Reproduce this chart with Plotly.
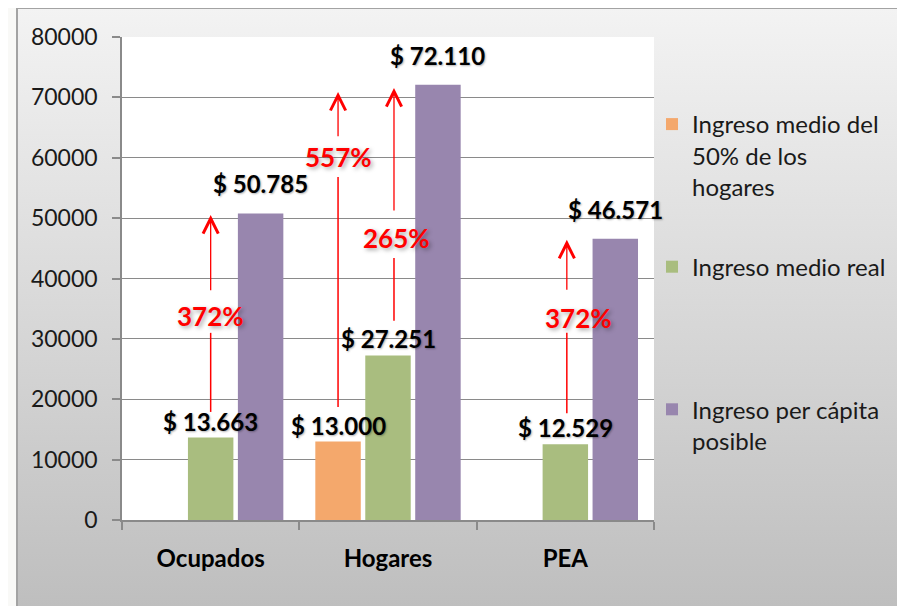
import base64
import plotly.graph_objects as go

# ---------------- data ----------------
categories = ["Ocupados", "Hogares", "PEA"]
series_names = [
    "Ingreso medio del<br>50% de los<br>hogares",
    "Ingreso medio real<br> <br> ",
    "Ingreso per cápita<br>posible",
]
ingreso_50_hogares = [None, 13000, None]
ingreso_medio_real = [13663, 27251, 12529]
ingreso_per_capita = [50785, 72110, 46571]

# growth arrows: category index, slot offset (in bar slots), label, start value, label value, tip value
arrow_category = [0, 1, 1, 2]
arrow_slot = [0.0, -1.0, 0.12, 0.03]
arrow_label = ["372%", "557%", "265%", "372%"]
arrow_label_dx = [0.0, 0.0, 0.012, 0.066]
arrow_start = [17900, 18700, 33000, 17700]
arrow_gap_low = [31000, 56800, 43400, 31000]
arrow_label_y = [33800, 60100, 46700, 33500]
arrow_gap_high = [37800, 63300, 51000, 37900]
arrow_tip = [50500, 70900, 71550, 46400]

y_ticks = [0, 10000, 20000, 30000, 40000, 50000, 60000, 70000, 80000]

# ---------------- style ----------------
W, H = 905, 606
OFF = 8  # page offset of the figure inside the window
ML, MT = 122 - OFF, 37 - OFF
MR, MB = W - (654 - OFF), H - (520 - OFF)
PW, PH = W - ML - MR, H - MT - MB
BARGAP, GROUPGAP = 0.155, 0.09
SLOT = (1 - BARGAP) / 3
colors = ["#f4a86c", "#a9bd7f", "#9886ae"]
FONT = "Lato"

def fmt(v):
    return "$ " + f"{v:,}".replace(",", ".")

fig = go.Figure()
all_series = [ingreso_50_hogares, ingreso_medio_real, ingreso_per_capita]
for i, (name, vals) in enumerate(zip(series_names, all_series)):
    fig.add_trace(go.Bar(
        x=categories, y=vals, name=name, legendgroup=f"g{i}",
        marker=dict(color=colors[i], line=dict(width=0)),
        hoverinfo="skip",
    ))

# value labels
label_yshift = [0, 0, 13]
annotations = []
for s, vals in enumerate(all_series):
    for c, v in enumerate(vals):
        if v is None:
            continue
        annotations.append(dict(
            x=c + (s - 1) * SLOT, y=v, xref="x", yref="y", text="<b>" + fmt(v) + "</b>",
            showarrow=False, yanchor="bottom", yshift=label_yshift[s],
            font=dict(family=FONT, size=24, color="#000000",
                      shadow="1px 1px 2px rgba(0,0,0,0.3)"),
        ))

# growth arrows
shapes = []
for k in range(len(arrow_label)):
    xa = arrow_category[k] + arrow_slot[k] * SLOT
    shapes.append(dict(type="line", xref="x", yref="y", x0=xa, x1=xa,
                       y0=arrow_start[k], y1=arrow_gap_low[k],
                       line=dict(color="#ff0000", width=1.5), layer="above"))
    annotations.append(dict(
        x=xa, y=arrow_tip[k], ax=xa, ay=arrow_gap_high[k], xref="x", yref="y",
        axref="x", ayref="y", text="", showarrow=True, arrowhead=5,
        arrowsize=2.3, arrowwidth=1.3, arrowcolor="#ff0000",
    ))
    annotations.append(dict(
        x=xa + arrow_label_dx[k], y=arrow_label_y[k], xref="x", yref="y",
        text="<b>" + arrow_label[k] + "</b>", showarrow=False,
        font=dict(family=FONT, size=26, color="#ff0000",
                  shadow="2px 2px 4px rgba(0,0,0,0.35)"),
    ))

# background panel with vertical gradient (window pixel coords minus page offset)
box_left, box_top, box_right, box_bottom = 16 - OFF, 7 - OFF, 903 - OFF, 612
bw, bh = box_right - box_left, box_bottom - box_top
svg = (
    f"<svg xmlns='http://www.w3.org/2000/svg' width='{bw}' height='{bh}' viewBox='0 0 {bw} {bh}'>"
    "<defs><linearGradient id='g' x1='0' y1='0' x2='0' y2='1'>"
    "<stop offset='0' stop-color='#f3f3f3'/><stop offset='1' stop-color='#bdbdbd'/>"
    "</linearGradient></defs>"
    f"<rect x='1' y='1' width='{bw-2}' height='{bh-2}' fill='url(#g)' stroke='#a3a3a3' stroke-width='2'/>"
    "</svg>"
)
src = "data:image/svg+xml;base64," + base64.b64encode(svg.encode()).decode()
images = [dict(
    source=src, xref="paper", yref="paper",
    x=(box_left - ML) / PW, y=(H - MB - box_top) / PH,
    sizex=bw / PW, sizey=bh / PH, xanchor="left", yanchor="top",
    sizing="stretch", layer="below",
)]
shapes.append(dict(type="rect", xref="paper", yref="paper", x0=0, x1=1, y0=0, y1=1,
                   fillcolor="#ffffff", line=dict(width=0), layer="below"))

legend_left, legend_top = 652 - OFF, 102 - OFF

fig.update_layout(
    width=W, height=H,
    margin=dict(l=ML, r=MR, t=MT, b=MB, pad=0),
    paper_bgcolor="#f9f9f7", plot_bgcolor="rgba(0,0,0,0)",
    barmode="group", bargap=BARGAP, bargroupgap=GROUPGAP,
    font=dict(family=FONT, size=22, color="#1a1a1a"),
    showlegend=True,
    legend=dict(x=(legend_left - ML) / PW, y=(H - MB - legend_top) / PH,
                xanchor="left", yanchor="top",
                valign="top", tracegroupgap=46, bgcolor="rgba(0,0,0,0)",
                font=dict(family=FONT, size=24, color="#1a1a1a")),
    annotations=annotations, shapes=shapes, images=images,
    xaxis=dict(
        type="category", showline=True, linecolor="#8a8a8a", linewidth=1.5,
        ticks="outside", ticklen=8, tickcolor="#8a8a8a", tickwidth=1.5,
        tickson="boundaries", showgrid=False, ticklabelstandoff=16,
        tickfont=dict(family=FONT, size=24, color="#000000", weight="bold"),
        range=[-0.5, 2.5],
    ),
    yaxis=dict(
        range=[0, 80000], tickvals=y_ticks, tickformat="d",
        showline=True, linecolor="#8a8a8a", linewidth=1.5,
        ticks="outside", ticklen=8, tickcolor="#8a8a8a", tickwidth=1.5,
        showgrid=True, gridcolor="#8a8a8a", gridwidth=1.3, zeroline=False,
        ticklabelstandoff=10,
        tickfont=dict(family=FONT, size=23, color="#1a1a1a"),
    ),
)

fig.write_html("out.html")
